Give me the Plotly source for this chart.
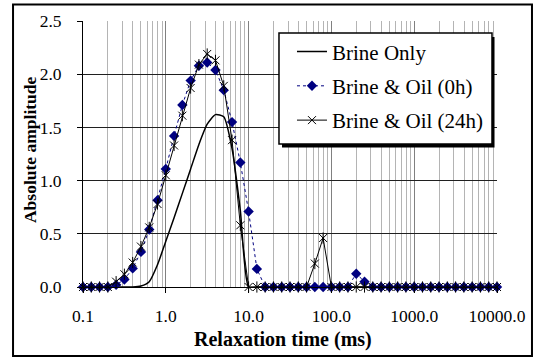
import plotly.graph_objects as go

# Relaxation-time bins (ms), ten per decade
relax_time_ms = [
    0.1, 0.1259, 0.1585, 0.1995, 0.2512, 0.3162, 0.3981, 0.5012, 0.631, 0.7943,
    1.0, 1.259, 1.585, 1.995, 2.512, 3.162, 3.981, 5.012, 6.31, 7.943,
    10.0, 12.59, 15.85, 19.95, 25.12, 31.62, 39.81, 50.12, 63.1, 79.43,
    100.0, 125.9, 158.5, 199.5, 251.2, 316.2, 398.1, 501.2, 631.0, 794.3,
    1000.0, 1259.0, 1585.0, 1995.0, 2512.0, 3162.0, 3981.0, 5012.0, 6310.0, 7943.0,
    10000.0,
]

brine_only = [
    0, 0, 0, 0, 0, 0, 0, 0.01, 0.05, 0.21,
    0.43, 0.65, 0.88, 1.11, 1.34, 1.53, 1.62, 1.60, 1.30, 0.72,
    0, 0, 0, 0, 0, 0, 0, 0, 0, 0,
    0, 0, 0, 0, 0, 0, 0, 0, 0, 0,
    0, 0, 0, 0, 0, 0, 0, 0, 0, 0,
    0,
]

brine_oil_0h = [
    0, 0, 0, 0, 0.02, 0.07, 0.175, 0.33, 0.54, 0.815,
    1.11, 1.42, 1.71, 1.94, 2.08, 2.11, 2.04, 1.85, 1.55, 1.17,
    0.71, 0.17, 0, 0, 0, 0, 0, 0, 0, 0,
    0, 0, 0, 0.125, 0.05, 0, 0, 0, 0, 0,
    0, 0, 0, 0, 0, 0, 0, 0, 0, 0,
    0,
]

brine_oil_24h = [
    0, 0, 0, 0, 0.05, 0.12, 0.23, 0.38, 0.56, 0.78,
    1.05, 1.33, 1.61, 1.87, 2.09, 2.19, 2.13, 1.89, 1.38, 0.58,
    0, 0, 0, 0, 0, 0, 0, 0, 0.22, 0.46,
    0, 0, 0, 0, 0, 0, 0, 0, 0, 0,
    0, 0, 0, 0, 0, 0, 0, 0, 0, 0,
    0,
]

series_names = ["Brine Only", "Brine & Oil (0h)", "Brine & Oil (24h)"]
x_title = "Relaxation time (ms)"
y_title = "Absolute amplitude"
x_tick_values = [0.1, 1, 10, 100, 1000, 10000]
x_tick_labels = ["0.1", "1.0", "10.0", "100.0", "1000.0", "10000.0"]
y_tick_values = [0, 0.5, 1.0, 1.5, 2.0, 2.5]
y_tick_labels = ["0.0", "0.5", "1.0", "1.5", "2.0", "2.5"]

# minor grid at 2..9 within each decade
minor_grid = [m * 10.0 ** d for d in range(-1, 4) for m in range(2, 10)]

SERIF = '"Liberation Serif", "Times New Roman", "DejaVu Serif", serif'
NAVY = "#000080"

fig = go.Figure()

fig.add_trace(go.Scatter(
    x=relax_time_ms, y=brine_only, name=series_names[0], mode="lines",
    line=dict(color="black", width=1.5, shape="spline", smoothing=0.6),
    legendgroup="a", cliponaxis=False,
))
fig.add_trace(go.Scatter(
    x=relax_time_ms, y=brine_oil_0h, name=series_names[1], mode="lines+markers",
    line=dict(color=NAVY, width=1, dash="dot"),
    marker=dict(symbol="diamond", size=8, color=NAVY, line=dict(width=0)),
    legendgroup="b", cliponaxis=False,
))
fig.add_trace(go.Scatter(
    x=relax_time_ms, y=brine_oil_24h, name=series_names[2], mode="lines+markers",
    line=dict(color="black", width=1),
    marker=dict(symbol="x-thin-open", size=8, color="black", line=dict(width=1, color="black")),
    legendgroup="c", cliponaxis=False,
))
# vertical arm of the asterisk markers
fig.add_trace(go.Scatter(
    x=relax_time_ms, y=brine_oil_24h, mode="markers", showlegend=False,
    marker=dict(symbol="line-ns-open", size=8, color="black", line=dict(width=1, color="black")),
    legendgroup="c", cliponaxis=False, hoverinfo="skip",
))

fig.update_layout(
    width=538, height=360,
    margin=dict(l=83, r=41, t=21, b=73),
    paper_bgcolor="white", plot_bgcolor="white",
    font=dict(family=SERIF, size=17.5, color="black"),
    showlegend=True,
    legend=dict(
        x=0.5048, y=0.961, xanchor="left", yanchor="top",
        bgcolor="rgba(0,0,0,0)", borderwidth=0,
        font=dict(family=SERIF, size=21, color="black"),
        itemwidth=30, tracegroupgap=4,
    ),
    xaxis=dict(
        type="log", range=[-1, 4],
        tickvals=x_tick_values, ticktext=x_tick_labels,
        ticks="outside", ticklen=5, tickcolor="black",
        showline=True, linecolor="black", linewidth=1,
        showgrid=True, gridcolor="#808080", gridwidth=1,
        minor=dict(tickvals=minor_grid, showgrid=True, gridcolor="#b4b4b4", gridwidth=1, ticks=""),
        zeroline=False,
        ticklabelstandoff=8,
    ),
    yaxis=dict(
        range=[0, 2.5],
        tickvals=y_tick_values, ticktext=y_tick_labels,
        ticks="outside", ticklen=5, tickcolor="black",
        showline=True, linecolor="black", linewidth=1,
        showgrid=True, gridcolor="#202020", gridwidth=1,
        zeroline=False,
        ticklabelstandoff=12,
    ),
    annotations=[
        dict(text=f"<b>{x_title}</b>", xref="paper", yref="paper",
             x=0.482, y=-0.199, xanchor="center", yanchor="middle",
             showarrow=False, font=dict(size=20)),
        dict(text=f"<b>{y_title}</b>", xref="paper", yref="paper",
             x=-0.128, y=0.515, xanchor="center", yanchor="middle",
             textangle=-90, showarrow=False, font=dict(size=17.5)),
    ],
    shapes=[
        # chart-area frame
        dict(type="rect", xref="paper", yref="paper",
             x0=-0.169, x1=1.0845, y0=-0.259, y1=1.062,
             line=dict(color="black", width=2), layer="below"),
        # legend box drop shadow
        dict(type="rect", xref="paper", yref="paper",
             x0=0.4807, x1=0.994, y0=0.5244, y1=0.9398,
             fillcolor="black", line=dict(width=0), layer="above"),
        # legend box
        dict(type="rect", xref="paper", yref="paper",
             x0=0.4734, x1=0.9879, y0=0.5376, y1=0.9549,
             fillcolor="white", line=dict(color="black", width=1.5), layer="above"),
    ],
)

fig.write_html("out.html")
